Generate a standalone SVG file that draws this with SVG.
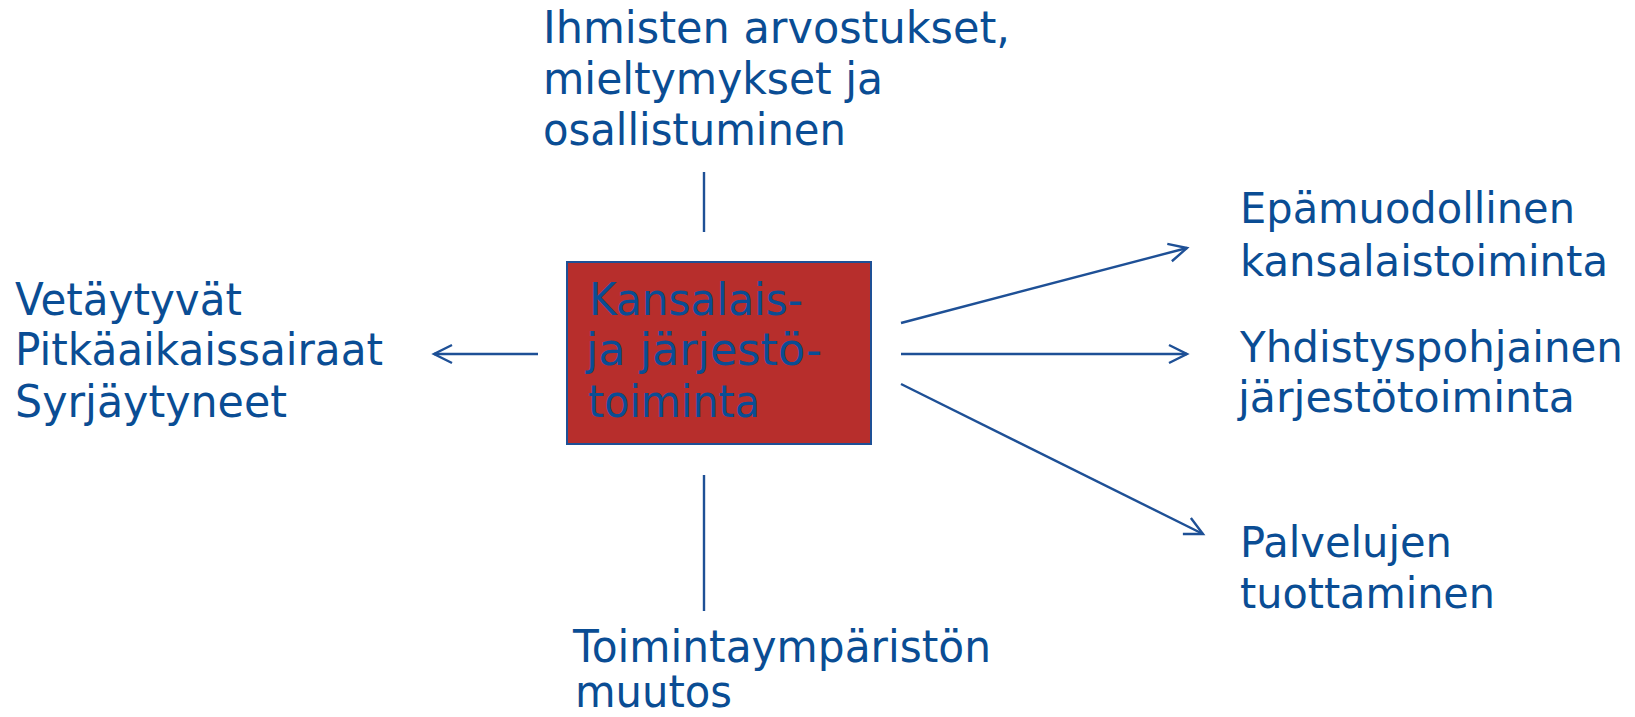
<svg xmlns="http://www.w3.org/2000/svg" width="1635" height="717" viewBox="0 0 1635 717">
<style>
text{font-family:"DejaVu Sans","Liberation Sans",sans-serif;fill:#0A4D94;}
.big{font-size:44px;}
.mid{font-size:42px;}
.ln{stroke:#1E5096;stroke-width:2.4;fill:none;}
</style>
<defs>
<marker id="arr" markerWidth="24" markerHeight="24" refX="20" refY="12" orient="auto" markerUnits="userSpaceOnUse">
<path d="M2,3 L20,12 L2,21" fill="none" stroke="#1E5096" stroke-width="2.4"/>
</marker>
</defs>
<rect width="1635" height="717" fill="#fff"/>
<g id="connectors">
<line class="ln" x1="704" y1="172" x2="704" y2="232"/>
<line class="ln" x1="704" y1="475" x2="704" y2="611"/>
<line class="ln" x1="538" y1="354" x2="434" y2="354" marker-end="url(#arr)"/>
<line class="ln" x1="901" y1="323" x2="1187" y2="248" marker-end="url(#arr)"/>
<line class="ln" x1="901" y1="354" x2="1187" y2="354" marker-end="url(#arr)"/>
<line class="ln" x1="901" y1="384" x2="1203" y2="534" marker-end="url(#arr)"/>
</g>
<g id="center">
<rect x="567" y="262" width="304" height="182" fill="#B72E2C" stroke="#1E5096" stroke-width="2"/>
<text class="big" x="589" y="315" textLength="214" lengthAdjust="spacingAndGlyphs">Kansalais-</text>
<text class="big" x="586" y="365" textLength="236" lengthAdjust="spacingAndGlyphs">ja järjestö-</text>
<text class="big" x="588" y="417" textLength="172" lengthAdjust="spacingAndGlyphs">toiminta</text>
</g>
<g id="top">
<text class="big" x="543" y="43" textLength="467" lengthAdjust="spacingAndGlyphs">Ihmisten arvostukset,</text>
<text class="big" x="543" y="94" textLength="340" lengthAdjust="spacingAndGlyphs">mieltymykset ja</text>
<text class="big" x="543" y="145" textLength="303" lengthAdjust="spacingAndGlyphs">osallistuminen</text>
</g>
<g id="left">
<text class="big" x="15" y="315" textLength="227" lengthAdjust="spacingAndGlyphs">Vetäytyvät</text>
<text class="big" x="15" y="365" textLength="368" lengthAdjust="spacingAndGlyphs">Pitkäaikaissairaat</text>
<text class="big" x="15" y="417" textLength="272" lengthAdjust="spacingAndGlyphs">Syrjäytyneet</text>
</g>
<g id="right1">
<text class="mid" x="1240" y="223" textLength="335" lengthAdjust="spacingAndGlyphs">Epämuodollinen</text>
<text class="mid" x="1240" y="276" textLength="368" lengthAdjust="spacingAndGlyphs">kansalaistoiminta</text>
</g>
<g id="right2">
<text class="mid" x="1240" y="362" textLength="383" lengthAdjust="spacingAndGlyphs">Yhdistyspohjainen</text>
<text class="mid" x="1238" y="412" textLength="337" lengthAdjust="spacingAndGlyphs">järjestötoiminta</text>
</g>
<g id="right3">
<text class="mid" x="1240" y="557" textLength="212" lengthAdjust="spacingAndGlyphs">Palvelujen</text>
<text class="mid" x="1240" y="608" textLength="255" lengthAdjust="spacingAndGlyphs">tuottaminen</text>
</g>
<g id="bottom">
<text class="big" x="573" y="662" textLength="418" lengthAdjust="spacingAndGlyphs">Toimintaympäristön</text>
<text class="big" x="575" y="707" textLength="157" lengthAdjust="spacingAndGlyphs">muutos</text>
</g>
</svg>
